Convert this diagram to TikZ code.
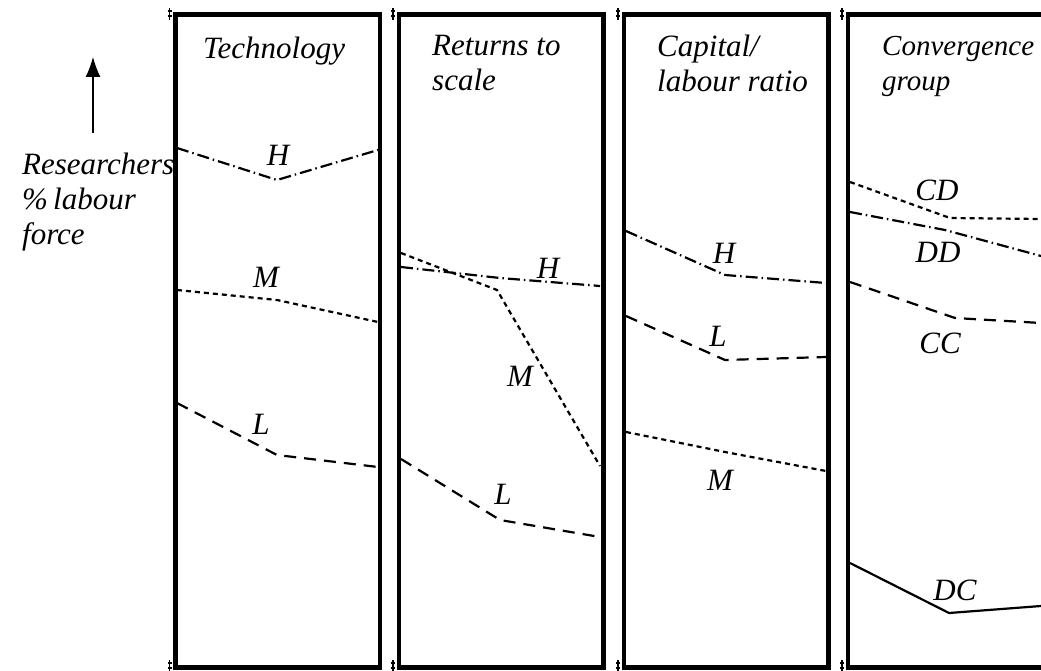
\documentclass[tikz,border=0pt]{standalone}
\usepackage{fontspec}
\setmainfont{Liberation Serif}
\usetikzlibrary{arrows.meta}
\begin{document}
\begin{tikzpicture}[x=1pt,y=-1pt,
  panel/.style={draw=black,line width=4.2pt},
  lab/.style={font=\fontsize{31}{35}\selectfont\itshape,inner sep=0pt},
  ttl/.style={font=\fontsize{31}{35}\selectfont\itshape,inner sep=0pt,align=left,anchor=north west},
  sdot/.style={line width=2.2pt,dash pattern=on 5pt off 4pt},
  ldash/.style={line width=2.2pt,dash pattern=on 12pt off 8pt},
  ddot/.style={line width=2.2pt,dash pattern=on 12pt off 4pt on 1.5pt off 4pt},
  solidl/.style={line width=2.2pt},
  tickm/.style={line width=1.2pt}]
\useasboundingbox (0,0) rectangle (1041,671);
% panels
\foreach \x/\n in {175.5/p1,399/p2,624/p3,848/p4}{
  \draw[panel] (\x,14.5) rectangle ++(204.5,653);
  \draw[tickm] (\x-6,8) -- ++(0,12) (\x-8,11) -- ++(4,0) (\x-8,16) -- ++(4,0);
  \draw[tickm] (\x-6,660) -- ++(0,11) (\x-8,663) -- ++(4,0) (\x-8,668) -- ++(4,0);
}
% titles
\node[ttl] (t1) at (203,37) {Technology};
\node[ttl] (t2) at (432,35) {Returns to\\scale};
\node[ttl] (t3) at (657,35) {Capital/\\labour ratio};
\node[ttl,font=\fontsize{29}{35}\selectfont\itshape] (t4) at (882,36) {Convergence\\group};
% axis label
\coordinate (a0) at (93,133);
\coordinate (a1) at (93,57);
\draw[line width=1.2pt,-{Latex[length=20pt,width=15pt]}] (a0) -- (a1);
\node[ttl] (ylab) at (22,153) {Researchers\\\%\,labour\\force};
% panel 1
\coordinate (h1a) at (177,148); \coordinate (h1b) at (277,180); \coordinate (h1c) at (378,150);
\draw[ddot] (h1a) -- (h1b) -- (h1c);
\node[lab] (H1) at (278,155) {H};
\coordinate (m1a) at (177,290); \coordinate (m1b) at (277,300); \coordinate (m1c) at (378,322);
\draw[sdot] (m1a) -- (m1b) -- (m1c);
\node[lab] (M1) at (266,277) {M};
\coordinate (l1a) at (177,403); \coordinate (l1b) at (277,455); \coordinate (l1c) at (378,467);
\draw[ldash] (l1a) -- (l1b) -- (l1c);
\node[lab] (L1) at (261,424) {L};
% panel 2
\coordinate (m2a) at (401,253); \coordinate (m2b) at (497,290); \coordinate (m2c) at (600,466);
\draw[sdot] (m2a) -- (m2b) -- (m2c);
\node[lab] (M2) at (520,376) {M};
\coordinate (h2a) at (401,267); \coordinate (h2b) at (500,278); \coordinate (h2c) at (600,286);
\draw[ddot] (h2a) -- (h2b) -- (h2c);
\node[lab] (H2) at (548,268) {H};
\coordinate (l2a) at (401,459); \coordinate (l2b) at (500,520); \coordinate (l2c) at (600,537);
\draw[ldash] (l2a) -- (l2b) -- (l2c);
\node[lab] (L2) at (503,494) {L};
% panel 3
\coordinate (h3a) at (626,231); \coordinate (h3b) at (725,275); \coordinate (h3c) at (826,283);
\draw[ddot] (h3a) -- (h3b) -- (h3c);
\node[lab] (H3) at (724,253) {H};
\coordinate (l3a) at (626,316); \coordinate (l3b) at (725,360); \coordinate (l3c) at (826,357);
\draw[ldash] (l3a) -- (l3b) -- (l3c);
\node[lab] (L3) at (718,336) {L};
\coordinate (m3a) at (626,432); \coordinate (m3b) at (725,452); \coordinate (m3c) at (826,471);
\draw[sdot] (m3a) -- (m3b) -- (m3c);
\node[lab] (M3) at (720,480) {M};
% panel 4
\coordinate (cda) at (850,182); \coordinate (cdb) at (950,218); \coordinate (cdc) at (1041,219);
\draw[sdot] (cda) -- (cdb) -- (cdc);
\node[lab] (CD) at (937,190) {CD};
\coordinate (dda) at (850,212); \coordinate (ddb) at (945,230); \coordinate (ddc) at (1041,256);
\draw[ddot] (dda) -- (ddb) -- (ddc);
\node[lab] (DD) at (938,252) {DD};
\coordinate (cca) at (850,282); \coordinate (ccb) at (955,318); \coordinate (ccc) at (1041,323);
\draw[ldash] (cca) -- (ccb) -- (ccc);
\node[lab] (CC) at (940,343) {CC};
\coordinate (dca) at (850,563); \coordinate (dcb) at (949,613); \coordinate (dcc) at (1041,606);
\draw[solidl] (dca) -- (dcb) -- (dcc);
\node[lab] (DC) at (955,590) {DC};
\end{tikzpicture}
\end{document}
